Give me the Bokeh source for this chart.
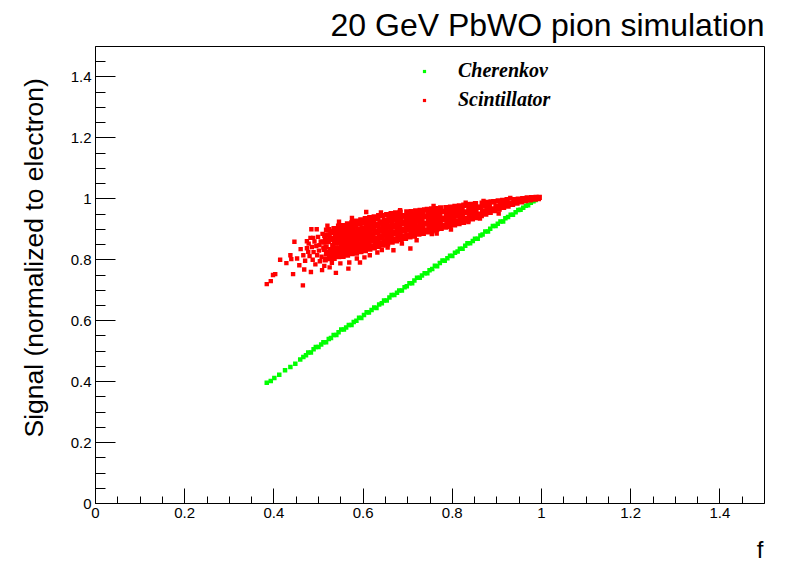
import math
from bokeh.plotting import figure
from bokeh.models import (Range1d, FixedTicker, CustomJSTickFormatter, Title,
                          Legend, LegendItem)
from bokeh.embed import file_html
from bokeh.resources import INLINE

# ---------------- texts ----------------
title_text = "20 GeV PbWO pion simulation"
x_title = "f"
y_title = "Signal (normalized to electron)"
series_names = ["Cherenkov", "Scintillator"]
series_colors = ["#00ff00", "#ff0000"]
major_ticks = [0, 0.2, 0.4, 0.6, 0.8, 1.0, 1.2, 1.4]

# ---------------- Cherenkov ----------------
cher_x = [0.384, 0.393, 0.401, 0.412, 0.425, 0.437, 0.448, 0.459, 0.466,
          0.472, 0.477, 0.483, 0.489, 0.494, 0.500, 0.506, 0.511, 0.517, 0.523,
          0.528, 0.534, 0.540, 0.545, 0.551, 0.557, 0.562, 0.568, 0.574, 0.579,
          0.585, 0.591, 0.596, 0.602, 0.608, 0.613, 0.619, 0.625, 0.630, 0.636,
          0.642, 0.647, 0.653, 0.659, 0.664, 0.670, 0.676, 0.681, 0.687, 0.693,
          0.698, 0.704, 0.710, 0.715, 0.721, 0.727, 0.732, 0.738, 0.744, 0.749,
          0.755, 0.761, 0.766, 0.772, 0.778, 0.783, 0.789, 0.795, 0.800, 0.806,
          0.812, 0.817, 0.823, 0.829, 0.834, 0.840, 0.846, 0.851, 0.857, 0.863,
          0.868, 0.874, 0.880, 0.885, 0.891, 0.897, 0.902, 0.908, 0.914, 0.919,
          0.925, 0.931, 0.936, 0.942, 0.948, 0.953, 0.959, 0.965, 0.970, 0.976,
          0.982, 0.987, 0.992]
cher_y = [0.396, 0.402, 0.412, 0.423, 0.437, 0.448, 0.459, 0.473, 0.481,
          0.487, 0.496, 0.496, 0.506, 0.514, 0.514, 0.522, 0.529, 0.529, 0.540,
          0.543, 0.553, 0.553, 0.562, 0.571, 0.571, 0.578, 0.586, 0.586, 0.596,
          0.600, 0.610, 0.609, 0.619, 0.628, 0.627, 0.635, 0.643, 0.642, 0.653,
          0.657, 0.666, 0.666, 0.676, 0.684, 0.684, 0.692, 0.699, 0.699, 0.710,
          0.713, 0.723, 0.723, 0.732, 0.741, 0.741, 0.748, 0.756, 0.756, 0.766,
          0.770, 0.780, 0.779, 0.789, 0.798, 0.797, 0.805, 0.813, 0.812, 0.823,
          0.827, 0.836, 0.836, 0.846, 0.854, 0.854, 0.862, 0.869, 0.869, 0.880,
          0.883, 0.893, 0.893, 0.902, 0.911, 0.911, 0.918, 0.926, 0.926, 0.936,
          0.940, 0.948, 0.948, 0.956, 0.963, 0.964, 0.971, 0.977, 0.979, 0.987,
          0.992, 0.996, 1.000]

# ---------------- Scintillator ----------------
# sparse tail at low f
scint_sparse_x = [0.384, 0.393, 0.398, 0.403, 0.414, 0.428, 0.437, 0.439, 0.443, 0.446,
                  0.452, 0.457, 0.465, 0.468, 0.466, 0.478, 0.483, 0.484, 0.496, 0.508,
                  0.474, 0.474, 0.477, 0.480, 0.482, 0.485, 0.487, 0.489, 0.491, 0.493,
                  0.495, 0.497, 0.499, 0.501, 0.503, 0.505, 0.507, 0.509, 0.511, 0.513,
                  0.460, 0.470, 0.488, 0.502]
scint_sparse_y = [0.720, 0.730, 0.750, 0.753, 0.800, 0.789, 0.815, 0.802, 0.753, 0.859,
                  0.804, 0.782, 0.716, 0.768, 0.815, 0.853, 0.760, 0.900, 0.900, 0.766,
                  0.861, 0.838, 0.826, 0.812, 0.872, 0.842, 0.800, 0.825, 0.860, 0.785,
                  0.845, 0.815, 0.875, 0.830, 0.795, 0.860, 0.810, 0.885, 0.840, 0.780,
                  0.835, 0.797, 0.872, 0.848]

# dense band
scint_core_x = [
    0.515, 0.518, 0.513, 0.517, 0.512, 0.516, 0.514, 0.518,
    0.525, 0.528, 0.523, 0.527, 0.522, 0.526, 0.524, 0.528, 0.523,
    0.535, 0.538, 0.533, 0.537, 0.532, 0.536, 0.534, 0.538, 0.533, 0.535,
    0.545, 0.548, 0.543, 0.547, 0.542, 0.546, 0.544, 0.548, 0.543, 0.545,
    0.555, 0.558, 0.553, 0.557, 0.552, 0.556, 0.554, 0.558, 0.553, 0.555,
    0.565, 0.568, 0.563, 0.567, 0.562, 0.566, 0.564, 0.568, 0.563, 0.565,
    0.575, 0.578, 0.573, 0.577, 0.572, 0.576, 0.574, 0.578, 0.573, 0.575,
    0.585, 0.588, 0.583, 0.587, 0.582, 0.586, 0.584, 0.588, 0.583, 0.585,
    0.595, 0.598, 0.593, 0.597, 0.592, 0.596, 0.594, 0.598, 0.593, 0.595,
    0.605, 0.608, 0.603, 0.607, 0.602, 0.606, 0.604, 0.608, 0.603, 0.605,
    0.615, 0.618, 0.613, 0.617, 0.612, 0.616, 0.614, 0.618, 0.613, 0.615,
    0.625, 0.628, 0.623, 0.627, 0.622, 0.626, 0.624, 0.628, 0.623, 0.625,
    0.635, 0.638, 0.633, 0.637, 0.632, 0.636, 0.634, 0.638, 0.633, 0.635,
    0.645, 0.648, 0.643, 0.647, 0.642, 0.646, 0.644, 0.648, 0.643,
    0.655, 0.658, 0.653, 0.657, 0.652, 0.656, 0.654, 0.658, 0.653,
    0.665, 0.668, 0.663, 0.667, 0.662, 0.666, 0.664, 0.668, 0.663,
    0.675, 0.678, 0.673, 0.677, 0.672, 0.676, 0.674, 0.678, 0.673,
    0.685, 0.688, 0.683, 0.687, 0.682, 0.686, 0.684, 0.688, 0.683,
    0.695, 0.698, 0.693, 0.697, 0.692, 0.696, 0.694, 0.698,
    0.705, 0.708, 0.703, 0.707, 0.702, 0.706, 0.704, 0.708,
    0.715, 0.718, 0.713, 0.717, 0.712, 0.716, 0.714, 0.718,
    0.725, 0.728, 0.723, 0.727, 0.722, 0.726, 0.724, 0.728,
    0.735, 0.738, 0.733, 0.737, 0.732, 0.736, 0.734, 0.738,
    0.745, 0.748, 0.743, 0.747, 0.742, 0.746, 0.744,
    0.755, 0.758, 0.753, 0.757, 0.752, 0.756, 0.754,
    0.765, 0.768, 0.763, 0.767, 0.762, 0.766, 0.764,
    0.775, 0.778, 0.773, 0.777, 0.772, 0.776, 0.774,
    0.785, 0.788, 0.783, 0.787, 0.782, 0.786,
    0.795, 0.798, 0.793, 0.797, 0.792, 0.796,
    0.805, 0.808, 0.803, 0.807, 0.802, 0.806,
    0.815, 0.818, 0.813, 0.817, 0.812, 0.816,
    0.825, 0.828, 0.823, 0.827, 0.822, 0.826,
    0.835, 0.838, 0.833, 0.837, 0.832,
    0.845, 0.848, 0.843, 0.847, 0.842,
    0.855, 0.858, 0.853, 0.857, 0.852,
    0.865, 0.868, 0.863, 0.867,
    0.875, 0.878, 0.873, 0.877,
    0.885, 0.888, 0.883, 0.887,
    0.895, 0.898, 0.893,
    0.905, 0.908, 0.903,
    0.915, 0.918, 0.913,
    0.925, 0.928, 0.923,
    0.935, 0.938,
    0.945, 0.948,
    0.955, 0.958,
    0.965, 0.968,
    0.975, 0.978,
    0.985, 0.988,
    0.993, 0.995,
]
scint_core_y = [
    0.800, 0.819, 0.834, 0.842, 0.858, 0.865, 0.879, 0.897,
    0.804, 0.810, 0.825, 0.833, 0.860, 0.867, 0.881, 0.890, 0.899,
    0.805, 0.818, 0.824, 0.839, 0.847, 0.863, 0.870, 0.884, 0.893, 0.902,
    0.810, 0.817, 0.833, 0.839, 0.855, 0.862, 0.876, 0.885, 0.894, 0.910,
    0.811, 0.824, 0.830, 0.845, 0.853, 0.869, 0.876, 0.890, 0.899, 0.912,
    0.815, 0.828, 0.836, 0.849, 0.858, 0.871, 0.880, 0.893, 0.905, 0.918,
    0.820, 0.829, 0.841, 0.852, 0.861, 0.875, 0.884, 0.896, 0.908, 0.922,
    0.822, 0.835, 0.843, 0.857, 0.865, 0.879, 0.887, 0.900, 0.913, 0.927,
    0.827, 0.837, 0.849, 0.860, 0.870, 0.882, 0.893, 0.905, 0.917, 0.931,
    0.830, 0.842, 0.852, 0.864, 0.874, 0.887, 0.896, 0.909, 0.921, 0.935,
    0.835, 0.845, 0.857, 0.867, 0.879, 0.890, 0.901, 0.913, 0.925, 0.938,
    0.839, 0.851, 0.861, 0.872, 0.882, 0.894, 0.905, 0.917, 0.929, 0.941,
    0.844, 0.855, 0.867, 0.878, 0.890, 0.901, 0.913, 0.924, 0.935, 0.945,
    0.848, 0.860, 0.871, 0.883, 0.894, 0.906, 0.918, 0.930, 0.945,
    0.852, 0.864, 0.876, 0.887, 0.899, 0.911, 0.923, 0.936, 0.948,
    0.858, 0.868, 0.880, 0.891, 0.903, 0.914, 0.927, 0.939, 0.951,
    0.862, 0.874, 0.885, 0.896, 0.907, 0.919, 0.931, 0.942, 0.954,
    0.867, 0.877, 0.889, 0.900, 0.911, 0.923, 0.934, 0.945, 0.956,
    0.870, 0.882, 0.894, 0.906, 0.918, 0.930, 0.943, 0.957,
    0.875, 0.886, 0.898, 0.910, 0.921, 0.933, 0.946, 0.958,
    0.878, 0.890, 0.901, 0.913, 0.925, 0.936, 0.948, 0.960,
    0.884, 0.894, 0.906, 0.917, 0.929, 0.940, 0.951, 0.962,
    0.887, 0.898, 0.909, 0.920, 0.932, 0.943, 0.954, 0.964,
    0.892, 0.904, 0.917, 0.929, 0.941, 0.953, 0.965,
    0.895, 0.907, 0.919, 0.931, 0.943, 0.955, 0.967,
    0.900, 0.911, 0.923, 0.935, 0.946, 0.957, 0.968,
    0.903, 0.914, 0.926, 0.937, 0.948, 0.959, 0.970,
    0.907, 0.920, 0.933, 0.946, 0.958, 0.971,
    0.910, 0.923, 0.936, 0.948, 0.961, 0.973,
    0.915, 0.927, 0.939, 0.951, 0.963, 0.975,
    0.919, 0.931, 0.943, 0.955, 0.966, 0.977,
    0.923, 0.935, 0.946, 0.957, 0.968, 0.979,
    0.929, 0.942, 0.955, 0.968, 0.981,
    0.934, 0.946, 0.958, 0.970, 0.982,
    0.938, 0.950, 0.962, 0.973, 0.984,
    0.945, 0.959, 0.972, 0.986,
    0.950, 0.963, 0.976, 0.988,
    0.956, 0.967, 0.979, 0.990,
    0.961, 0.976, 0.991,
    0.966, 0.980, 0.993,
    0.972, 0.984, 0.995,
    0.976, 0.987, 0.997,
    0.982, 0.997,
    0.986, 0.999,
    0.990, 1.001,
    0.994, 1.003,
    0.997, 1.004,
    0.999, 1.005,
    1.001, 1.005,
]

# scattered points around the band
scint_outlier_x = [0.539, 0.549, 0.567, 0.569, 0.593, 0.586, 0.603, 0.615, 0.632, 0.642,
                   0.655, 0.668, 0.687, 0.706, 0.720, 0.754, 0.765, 0.797, 0.836, 0.862,
                   0.904, 0.607, 0.546, 0.575, 0.640, 0.683, 0.758, 0.830, 0.870, 0.930,
                   0.520, 0.530, 0.525]
scint_outlier_y = [0.757, 0.788, 0.771, 0.791, 0.791, 0.804, 0.808, 0.815, 0.824, 0.832,
                   0.840, 0.831, 0.853, 0.837, 0.864, 0.884, 0.886, 0.899, 0.924, 0.935,
                   0.952, 0.957, 0.925, 0.937, 0.955, 0.963, 0.977, 0.987, 0.993, 1.003,
                   0.912, 0.790, 0.775]

scint_loose_x = scint_sparse_x + scint_outlier_x
scint_loose_y = scint_sparse_y + scint_outlier_y

# ---------------- figure ----------------
p = figure(frame_width=669, frame_height=457,
           min_border_left=95, min_border_right=24,
           min_border_top=46, min_border_bottom=64,
           x_range=Range1d(0, 1.5), y_range=Range1d(0, 1.5),
           output_backend="svg", toolbar_location=None,
           background_fill_color="white", border_fill_color="white")
p.xgrid.visible = False
p.ygrid.visible = False
p.outline_line_color = "black"
p.outline_line_width = 1
p.outline_line_alpha = 1.0

minor = [round(0.05 * i, 2) for i in range(1, 30) if i % 4 != 0]
fmt = CustomJSTickFormatter(code="return String(Math.round(tick*100)/100);")

for ax, maj_in, min_in in ((p.xaxis[0], 15, 7), (p.yaxis[0], 20, 10)):
    ax.ticker = FixedTicker(ticks=major_ticks, minor_ticks=minor)
    ax.formatter = fmt
    ax.major_tick_in = maj_in
    ax.major_tick_out = 0
    ax.minor_tick_in = min_in
    ax.minor_tick_out = 0
    ax.axis_line_color = "black"
    ax.major_tick_line_color = "black"
    ax.minor_tick_line_color = "black"
    ax.major_label_text_font = "Liberation Sans"
    ax.major_label_text_font_size = "15px"
    ax.major_label_text_color = "black"
    ax.major_label_standoff = 4

r_c = p.scatter(cher_x, cher_y, marker="square", size=4.5,
                fill_color=series_colors[0], line_color=None)
r_s1 = p.scatter(scint_core_x, scint_core_y, marker="square", size=5.3,
                 fill_color=series_colors[1], line_color=None)
r_s2 = p.scatter(scint_loose_x, scint_loose_y, marker="square", size=4.4,
                 fill_color=series_colors[1], line_color=None)

legend = Legend(items=[LegendItem(label=series_names[0], renderers=[r_c]),
                       LegendItem(label=series_names[1], renderers=[r_s2])],
                location=(325, 392), orientation="vertical",
                glyph_width=8, glyph_height=20, label_height=20,
                label_standoff=30, spacing=6, padding=0, margin=0,
                border_line_color=None, background_fill_alpha=0,
                label_text_font="Liberation Serif",
                label_text_font_style="bold italic",
                label_text_font_size="20px", label_text_color="black")
p.add_layout(legend)

p.add_layout(Title(text=title_text, align="right", vertical_align="bottom",
                   standoff=8, text_font="Liberation Sans",
                   text_font_style="normal", text_font_size="32px",
                   text_color="black"), "above")
p.add_layout(Title(text=x_title, align="right", offset=1, vertical_align="top",
                   standoff=30, text_font="Liberation Sans",
                   text_font_style="normal", text_font_size="24px",
                   text_color="black"), "below")
p.add_layout(Title(text=y_title, align="left", offset=66, vertical_align="top",
                   standoff=34, text_font="Liberation Sans",
                   text_font_style="normal", text_font_size="26.5px",
                   text_color="black"), "left")

open("out.html", "w").write(file_html(p, INLINE))
